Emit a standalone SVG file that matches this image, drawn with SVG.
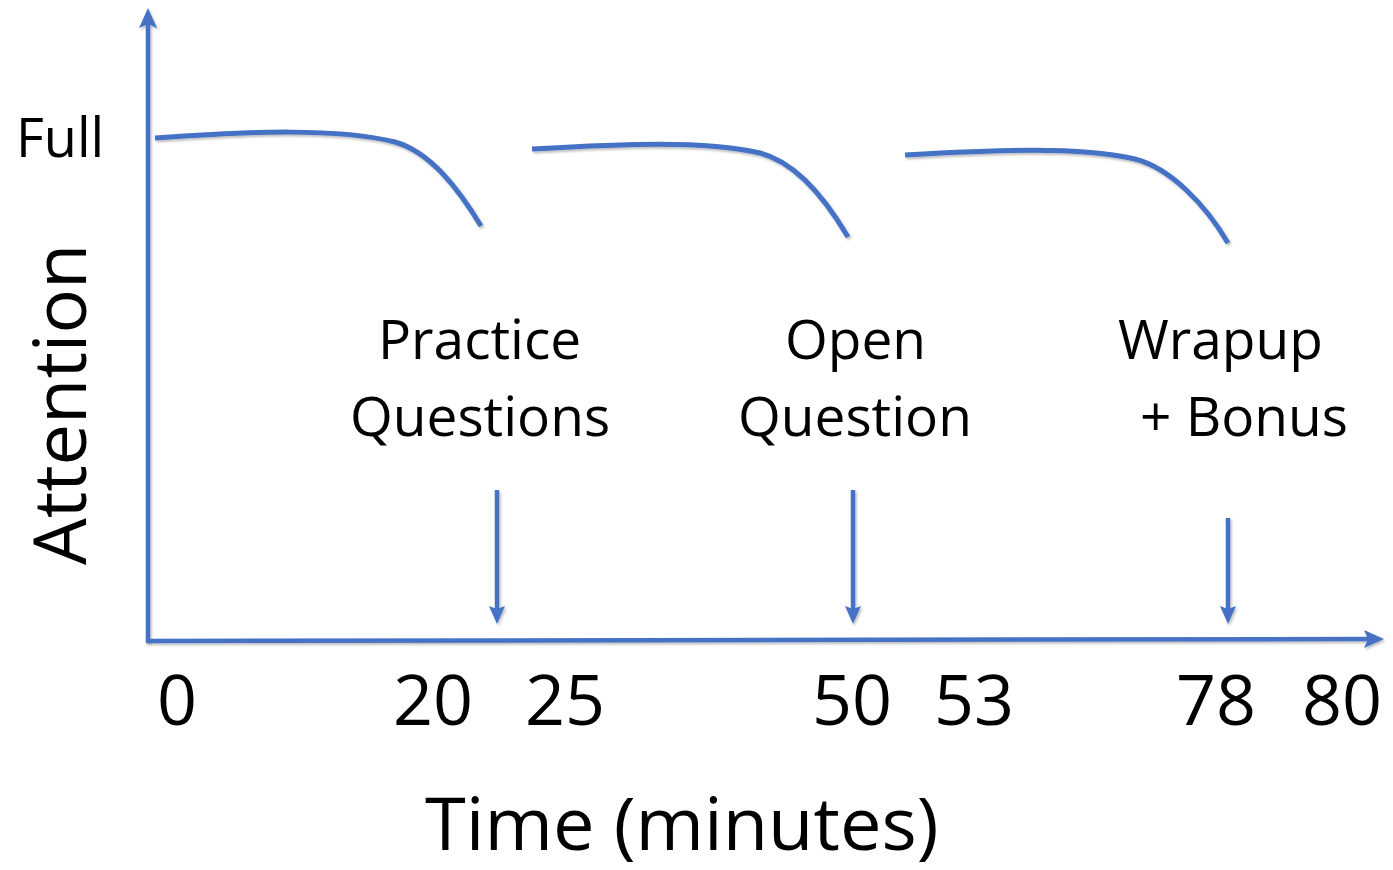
<svg xmlns="http://www.w3.org/2000/svg" width="1393" height="870" viewBox="0 0 1393 870">
  <style>
    .ln { fill: none; stroke: #4472C4; stroke-linecap: butt; filter: url(#sh); }
    .axis { stroke-width: 4.5; }
    .curve { stroke-width: 5; }
    .ptr { stroke-width: 4.5; }
    .t { font-family: "Open Sans", "Noto Sans", sans-serif; fill: #000; }
  </style>
  <defs>
    <filter id="sh" filterUnits="userSpaceOnUse" x="0" y="0" width="1393" height="870">
      <feDropShadow dx="1.5" dy="2" stdDeviation="1.2" flood-color="#000" flood-opacity="0.25"/>
    </filter>
    <marker id="ah" markerUnits="userSpaceOnUse" markerWidth="22" markerHeight="22" viewBox="0 0 22 22" refX="4" refY="11" orient="auto">
      <path d="M0,2 L20,11 L0,20 L4,11 Z" fill="#4472C4"/>
    </marker>
    <marker id="ah2" markerUnits="userSpaceOnUse" markerWidth="20" markerHeight="20" viewBox="0 0 20 20" refX="4" refY="10" orient="auto">
      <path d="M0,2 L18,10 L0,18 L3,10 Z" fill="#4472C4"/>
    </marker>
  </defs>
  <rect width="1393" height="870" fill="#fff"/>

  <!-- axes, attention curves and pointer arrows -->
  <g id="connectors">
    <line class="ln axis" x1="148" y1="642" x2="148" y2="24" marker-end="url(#ah)"/>
    <line class="ln axis" x1="146" y1="641" x2="1368" y2="639" marker-end="url(#ah)"/>
    <path class="ln curve" d="M155,138 C250,131 340,128 395,142 C430,152 458,188 481,226"/>
    <path class="ln curve" d="M532,149 C620,144 705,140 760,153 C795,162 825,198 848,237"/>
    <path class="ln curve" d="M905,155 C995,150 1080,146 1135,159 C1170,168 1205,204 1228,243"/>
    <line class="ln ptr" x1="497" y1="490" x2="497" y2="610" marker-end="url(#ah2)"/>
    <line class="ln ptr" x1="853" y1="490" x2="853" y2="610" marker-end="url(#ah2)"/>
    <line class="ln ptr" x1="1228" y1="518" x2="1228" y2="610" marker-end="url(#ah2)"/>
  </g>

  <g id="label-full"><text class="t" x="16" y="157" font-size="54">Full</text></g>
  <g id="label-attention"><text class="t" transform="translate(86,565) rotate(-90)" font-size="74">Attention</text></g>
  <g id="label-practice">
    <text class="t" x="378" y="359" font-size="55">Practice</text>
    <text class="t" x="350" y="436" font-size="55">Questions</text>
  </g>
  <g id="label-open">
    <text class="t" x="785" y="359" font-size="55">Open</text>
    <text class="t" x="738" y="436" font-size="55">Question</text>
  </g>
  <g id="label-wrapup">
    <text class="t" x="1118" y="359" font-size="55">Wrapup</text>
    <text class="t" x="1140" y="436" font-size="55">+ Bonus</text>
  </g>
  <g id="ticks">
    <text class="t" x="157" y="725" font-size="70">0</text>
    <text class="t" x="393" y="725" font-size="70">20</text>
    <text class="t" x="525" y="725" font-size="70">25</text>
    <text class="t" x="812" y="725" font-size="70">50</text>
    <text class="t" x="934" y="725" font-size="70">53</text>
    <text class="t" x="1176" y="725" font-size="70">78</text>
    <text class="t" x="1302" y="725" font-size="70">80</text>
  </g>
  <g id="label-time"><text class="t" x="425" y="850" font-size="74">Time (minutes)</text></g>
</svg>
